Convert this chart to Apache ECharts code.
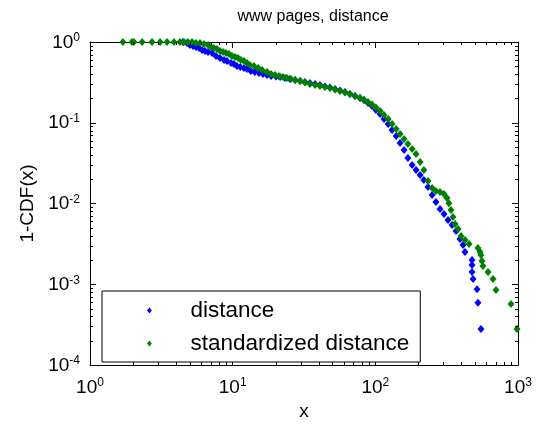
<!DOCTYPE html>
<html><head><meta charset="utf-8">
<script src="https://cdn.jsdelivr.net/npm/echarts@6/dist/echarts.min.js"></script>
<style>html,body{margin:0;padding:0;background:#fff}#c{width:539px;height:433px}</style>
</head><body><div id="c"></div>
<script>
const titleText = 'www pages, distance';
const xName = 'x';
const yName = '1-CDF(x)';
const seriesNames = ['distance', 'standardized distance'];
const seriesColors = ['#0000ff', '#008000'];

// series "distance" (blue)
const distX = [4.49,4.79,5.02,5.27,5.53,5.81,6.10,6.40,6.72,7.17,7.64,8.15,8.70,9.13,9.73,10.2,10.7,11.3,12.0,12.6,13.4,14.3,15.3,16.3,17.4,18.6,20.1,21.5,23.3,25.2,27.4,29.7,32.1,34.8,37.8,40.9,44.4,48.1,52.2,56.5,61.3,66.4,72.0,78.1,83.3,88.8,94.8,101,108,115,123,131,140,149,159,169,181,193,206,219,234,250,266,284,303,323,345,368,392,412,425,476,476,476,484,516,524,550];
const distY = [1,0.972,0.918,0.892,0.867,0.843,0.796,0.774,0.752,0.731,0.671,0.634,0.599,0.582,0.550,0.534,0.505,0.490,0.477,0.463,0.438,0.425,0.413,0.402,0.390,0.379,0.374,0.369,0.358,0.348,0.338,0.329,0.320,0.311,0.302,0.293,0.281,0.273,0.262,0.251,0.240,0.227,0.214,0.203,0.191,0.176,0.161,0.144,0.128,0.111,0.0965,0.0813,0.0685,0.0561,0.0460,0.0366,0.0300,0.0260,0.0225,0.0195,0.0160,0.0127,0.0104,0.00855,0.00741,0.00625,0.00542,0.00457,0.00363,0.00306,0.00251,0.00200,0.00173,0.00142,0.00116,0.00087,0.00059,0.00028];

// series "standardized distance" (green)
const stdX = [1.70,1.97,2.03,2.32,2.72,3.10,3.47,3.88,4.27,4.56,4.86,5.19,5.53,5.90,6.30,6.72,7.05,7.40,7.77,8.15,8.56,8.98,9.43,9.89,10.4,10.9,11.4,12.0,12.6,13.2,14.1,15.1,16.1,17.4,18.6,19.8,21.1,22.5,24.0,25.6,27.4,29.7,32.1,34.8,37.8,40.9,44.4,48.1,52.2,56.5,61.3,66.4,72.0,78.1,83.3,88.8,94.8,101,108,115,123,131,140,149,159,169,181,193,206,219,234,250,266,284,303,318,328,339,350,362,380,399,425,454,524,542,550,559,568,616,668,701,893,984];
const stdY = [1,1,1,1,1,1,1,1,1,1,1,1,0.972,0.972,0.945,0.918,0.867,0.843,0.819,0.774,0.752,0.731,0.710,0.671,0.652,0.634,0.599,0.582,0.550,0.519,0.505,0.477,0.450,0.425,0.402,0.390,0.379,0.369,0.358,0.348,0.338,0.329,0.315,0.302,0.293,0.285,0.277,0.269,0.258,0.247,0.237,0.227,0.214,0.203,0.191,0.181,0.168,0.155,0.140,0.125,0.111,0.0965,0.0837,0.0726,0.0629,0.0545,0.0473,0.0410,0.0327,0.0260,0.0190,0.0156,0.0143,0.0139,0.0131,0.0117,0.0101,0.00831,0.00681,0.00557,0.00483,0.00396,0.00353,0.00315,0.00281,0.00251,0.00230,0.00194,0.00168,0.00142,0.00116,0.00085,0.00057,0.00028];

const xMin = 1, xMax = 1000, yMin = 1e-4, yMax = 1;

const FONT = "'Liberation Sans', Arial, sans-serif";
const zip = (a, b) => a.map((v, i) => [v, b[i]]);
const DIAMOND = 'path://M0,-1L0.8,0L0,1L-0.8,0Z';

// minor tick positions (2..9 x decade)
const minorTicks = [];
for (let k = 0; k < 3; k++) for (let m = 2; m <= 9; m++) minorTicks.push([m * Math.pow(10, k), yMin, 0]);
for (let k = -4; k < 0; k++) for (let m = 2; m <= 9; m++) minorTicks.push([xMin, m * Math.pow(10, k), 1]);

const supLabel = {
  formatter: v => '{b|10}{s|' + Math.round(Math.log10(v)) + '}',
  rich: {
    b: {fontSize: 19, fontFamily: FONT, color: '#000', lineHeight: 20, padding: [7, 0, 0, 0], verticalAlign: 'bottom'},
    s: {fontSize: 12, fontFamily: FONT, color: '#000', lineHeight: 14, verticalAlign: 'top'}
  }
};
const axisCommon = {
  type: 'log', logBase: 10,
  axisLine: {show: true, onZero: false, lineStyle: {color: '#000', width: 1}},
  axisTick: {show: true, inside: true, length: 6, lineStyle: {color: '#000'}},
  splitLine: {show: false}
};

const chart = echarts.init(document.getElementById('c'), null, {renderer: 'canvas'});
chart.setOption({
  animation: false,
  backgroundColor: '#fff',
  title: {text: titleText, left: 308, top: 4, textAlign: 'center',
    textStyle: {fontSize: 16, fontWeight: 'normal', fontFamily: FONT, color: '#000'}},
  grid: {left: 90, right: 21, top: 42, bottom: 68},
  xAxis: [
    Object.assign({}, axisCommon, {position: 'bottom', min: xMin, max: xMax,
      axisLabel: Object.assign({margin: 12}, supLabel),
      name: xName, nameLocation: 'middle', nameGap: 35,
      nameTextStyle: {fontSize: 19, fontFamily: FONT, color: '#000'}}),
    Object.assign({}, axisCommon, {position: 'top', min: xMin, max: xMax, axisLabel: {show: false}})
  ],
  yAxis: [
    Object.assign({}, axisCommon, {position: 'left', min: yMin, max: yMax,
      axisLabel: Object.assign({margin: 10}, supLabel),
      name: yName, nameLocation: 'middle', nameGap: 52, nameRotate: 90,
      nameTextStyle: {fontSize: 19, fontFamily: FONT, color: '#000'}}),
    Object.assign({}, axisCommon, {position: 'right', min: yMin, max: yMax, axisLabel: {show: false}})
  ],
  legend: {
    orient: 'vertical', left: 102, top: 291,
    padding: [8, 11, 7, 45], itemGap: 10, itemWidth: 6, itemHeight: 6,
    symbolKeepAspect: true,
    borderColor: '#000', borderWidth: 1, backgroundColor: '#fff',
    data: seriesNames.map(n => ({name: n, icon: DIAMOND})),
    textStyle: {fontSize: 22.5, fontFamily: FONT, color: '#000', lineHeight: 21, padding: [0, 0, 0, 33]}
  },
  series: [
    {name: seriesNames[0], type: 'scatter', data: zip(distX, distY), symbol: 'diamond',
      symbolSize: [7, 8], itemStyle: {color: seriesColors[0], opacity: 1}, z: 3},
    {name: seriesNames[1], type: 'scatter', data: zip(stdX, stdY), symbol: 'diamond',
      symbolSize: [7, 8], itemStyle: {color: seriesColors[1], opacity: 1}, z: 4},
    {type: 'custom', silent: true, clip: false, z: 5, data: minorTicks, encode: {x: 0, y: 1},
      renderItem: function (params, api) {
        const L = 3, style = {stroke: '#000', lineWidth: 1};
        const kind = api.value(2);
        if (kind === 0) {
          const v = api.value(0);
          const b = api.coord([v, yMin]), t = api.coord([v, yMax]);
          const px = Math.round(b[0]) + 0.5;
          return {type: 'group', children: [
            {type: 'line', shape: {x1: px, y1: b[1], x2: px, y2: b[1] - L}, style: style},
            {type: 'line', shape: {x1: px, y1: t[1], x2: px, y2: t[1] + L}, style: style}]};
        } else {
          const v = api.value(1);
          const l = api.coord([xMin, v]), r = api.coord([xMax, v]);
          const py = Math.round(l[1]) + 0.5;
          return {type: 'group', children: [
            {type: 'line', shape: {x1: l[0], y1: py, x2: l[0] + L, y2: py}, style: style},
            {type: 'line', shape: {x1: r[0], y1: py, x2: r[0] - L, y2: py}, style: style}]};
        }
      }}
  ]
});
</script></body></html>
